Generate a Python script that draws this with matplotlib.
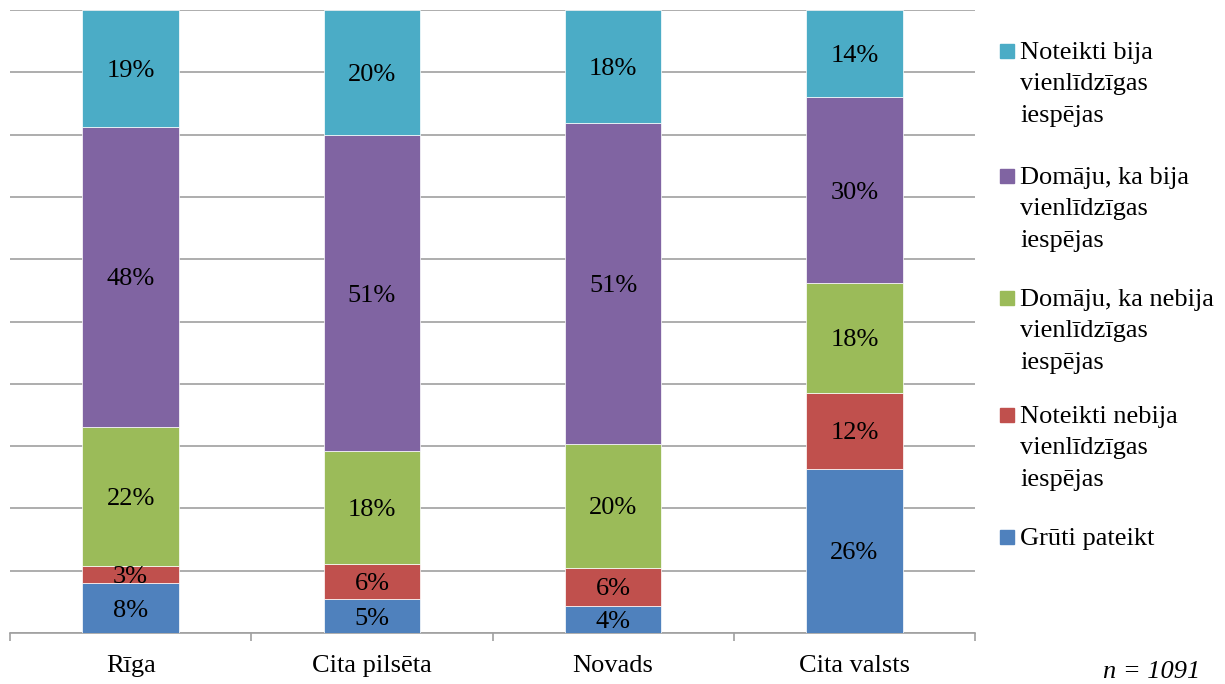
import matplotlib.pyplot as plt
import matplotlib.patches as mpatches
import numpy as np

plt.rcParams['font.family'] = ['Liberation Serif', 'DejaVu Serif']

categories = ['Rīga', 'Cita pilsēta', 'Novads', 'Cita valsts']
series = ['Grūti pateikt',
          'Noteikti nebija\nvienlīdzīgas\niespējas',
          'Domāju, ka nebija\nvienlīdzīgas\niespējas',
          'Domāju, ka bija\nvienlīdzīgas\niespējas',
          'Noteikti bija\nvienlīdzīgas\niespējas']
grut = [8.0, 5.4, 4.4, 26.4]
not_nebija = [2.7, 5.7, 6.1, 12.2]
dom_nebija = [22.3, 18.1, 19.9, 17.6]
dom_bija = [48.3, 50.7, 51.4, 29.8]
not_bija = [18.7, 20.1, 18.2, 14.0]
colors = ['#4F81BD', '#C0504D', '#9BBB59', '#8064A2', '#4BACC6']

values = [grut, not_nebija, dom_nebija, dom_bija, not_bija]
FS = 19

W, H = 1225, 684
fig = plt.figure(figsize=(W / 100, H / 100), dpi=100)
ax = fig.add_axes([10/W, 1-633/H, 965/W, 623/H])

x = np.arange(len(categories))
bottom = np.zeros(len(categories))
for vals, col in zip(values, colors):
    vals = np.array(vals)
    ax.bar(x, vals, 0.4, bottom=bottom, color=col, edgecolor='white',
           linewidth=0.5, zorder=3)
    for xi, b, v in zip(x, bottom, vals):
        ax.text(xi, b + v / 2, f'{round(v)}%', ha='center',
                va='center_baseline', fontsize=FS, zorder=4)
    bottom += vals

ax.set_xlim(-0.5, 3.5)
ax.set_ylim(0, 100)
ax.set_yticks(np.arange(0, 101, 10))
ax.yaxis.grid(True, color='#A0A0A0', linewidth=1.2, zorder=0)
ax.tick_params(axis='y', length=0, labelleft=False)
ax.set_xticks(x)
ax.set_xticklabels(categories, fontsize=FS)
ax.set_xticks(np.arange(-0.5, 4, 1), minor=True)
ax.tick_params(axis='x', which='major', length=0, pad=16)
ax.tick_params(axis='x', which='minor', length=6, color='#A0A0A0', width=1.2)
for s in ['left', 'right', 'top']:
    ax.spines[s].set_visible(False)
ax.spines['bottom'].set_color('#A0A0A0')
ax.spines['bottom'].set_linewidth(1.2)

# legend, drawn by hand so the marker sits beside the first line
leg_y = [537, 415, 298, 176, 51]  # centre of first line, px from top
for name, col, yc in zip(series, colors, leg_y):
    fig.patches.append(mpatches.Rectangle((1000/W, 1-(yc+7)/H), 14/W, 14/H,
                                          transform=fig.transFigure,
                                          color=col))
    fig.text(1020/W, 1-(yc-9)/H, name, ha='left', va='top', fontsize=FS,
             linespacing=1.55)

fig.text(1200/W, 1-683/H, 'n = 1091', ha='right', va='bottom',
         fontsize=FS, style='italic')

fig.savefig('out.png', dpi=100)
